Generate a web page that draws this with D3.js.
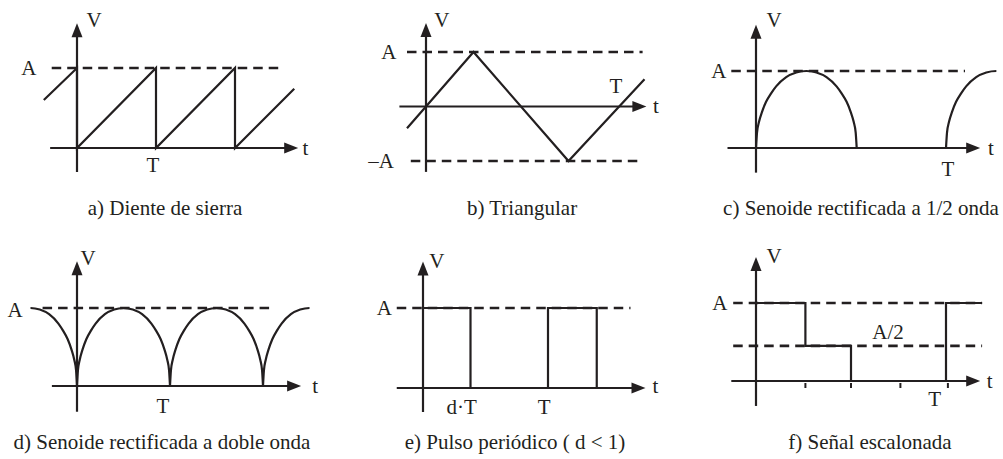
<!DOCTYPE html>
<html lang="es"><head>
<meta charset="utf-8">
<title>Formas de onda</title>
<script src="https://cdn.jsdelivr.net/npm/d3@7"></script>
<style>
  body { margin: 0; background: #fff; }
  svg text { font-family: "Liberation Serif", "Times New Roman", serif; font-size: 21px; fill: #231f20; }
</style>
</head>
<body>
<svg id="chart" width="1003" height="459"></svg>
<script>
// values in units of T (time) and A (amplitude)
const sawtooth = [[-0.42, 0.6], [0, 1], [0, 0], [1, 1], [1, 0], [2, 1], [2, 0], [2.75, 0.74]]
const triangle = [[-0.1, -0.4], [0, 0], [0.25, 1], [0.75, -1], [1.15, 0.5]]
// one rounded arch as drawn, u = fraction of the arch, v = level
const archProfile = [[0, 0], [0.01, 0.2], [0.03, 0.34], [0.06, 0.47], [0.1, 0.6], [0.15, 0.71], [0.2, 0.8],
  [0.3, 0.92], [0.4, 0.98], [0.5, 1], [0.6, 0.98], [0.7, 0.92], [0.8, 0.8], [0.85, 0.71], [0.9, 0.6],
  [0.94, 0.47], [0.97, 0.34], [0.99, 0.2], [1, 0]]
const halfWaveStarts = [0, 1]
const halfWaveWidth = 0.53
const fullWaveStarts = [-1, 0, 1, 2]
const fullWaveWidth = 1
const pulse = [[0, 1], [0.38, 1], [0.38, 0], [1, 0], [1, 1], [1.39, 1], [1.39, 0], [1.7, 0]]
const steps = [[0, 1], [0.26, 1], [0.26, 0.45], [0.5, 0.45], [0.5, 0], [1, 0], [1, 1], [1.19, 1]]
const stepTicks = [0.26, 0.5, 0.76, 1.01]
const captions = ["a) Diente de sierra", "b) Triangular", "c) Senoide rectificada a 1/2 onda",
  "d) Senoide rectificada a doble onda", "e) Pulso periódico ( d < 1)", "f) Señal escalonada"]

const ink = "#231f20"
const svg = d3.select("#chart")

// layout of each small plot: pixel position of t=0, t=T, v=0, v=A
const panels = [
  { x0: 77, xT: 156, y0: 148, yA: 68, tAxis: [-0.34, 2.80], vAxis: [-0.3, 1.56],
    dashed: [{ v: 1, from: -0.32, to: 2.61 }],
    lines: [sawtooth], curves: null,
    labels: [{ s: "A", t: -0.61, v: 1 }, { s: "V", t: 0.215, v: 1.6 }, { s: "t", t: 2.89, v: 0 }, { s: "T", t: 0.96, v: -0.21 }],
    caption: { x: 165, y: 215 } },
  { x0: 426, xT: 616, y0: 106.5, yA: 52, tAxis: [-0.14, 1.16], vAxis: [-1.2, 1.53],
    dashed: [{ v: 1, from: -0.1, to: 1.14 }, { v: -1, from: -0.08, to: 1.14 }],
    lines: [triangle], curves: null,
    labels: [{ s: "A", t: -0.195, v: 1 }, { s: "\u2013A", t: -0.237, v: -1 }, { s: "V", t: 0.084, v: 1.59 },
      { s: "t", t: 1.21, v: 0 }, { s: "T", t: 1, v: 0.38 }],
    caption: { x: 522, y: 215 } },
  { x0: 756, xT: 946, y0: 148, yA: 71, tAxis: [-0.15, 1.18], vAxis: [-0.32, 1.6],
    dashed: [{ v: 1, from: -0.13, to: 1.1 }],
    lines: [], curves: { starts: halfWaveStarts, width: halfWaveWidth, clip: [0, 1.265] },
    labels: [{ s: "A", t: -0.195, v: 1 }, { s: "V", t: 0.095, v: 1.66 }, { s: "t", t: 1.237, v: 0 }, { s: "T", t: 1.01, v: -0.27 }],
    caption: { x: 861, y: 215 } },
  { x0: 77, xT: 170, y0: 386, yA: 308, tAxis: [-0.27, 2.41], vAxis: [-0.33, 1.6],
    dashed: [{ v: 1, from: -0.37, to: 2.11 }],
    lines: [], curves: { starts: fullWaveStarts, width: fullWaveWidth, clip: [-0.5, 2.5] },
    labels: [{ s: "A", t: -0.667, v: 0.97 }, { s: "V", t: 0.118, v: 1.64 }, { s: "t", t: 2.56, v: 0 }, { s: "T", t: 0.925, v: -0.26 }],
    caption: { x: 162, y: 449 } },
  { x0: 423, xT: 548, y0: 388, yA: 308, tAxis: [-0.21, 1.78], vAxis: [-0.3, 1.58],
    dashed: [{ v: 1, from: -0.21, to: 1.66 }],
    lines: [pulse], curves: null,
    labels: [{ s: "A", t: -0.31, v: 1 }, { s: "V", t: 0.11, v: 1.59 }, { s: "t", t: 1.86, v: 0.03 },
      { s: "d\u00b7T", t: 0.31, v: -0.24 }, { s: "T", t: 0.97, v: -0.24 }],
    caption: { x: 515, y: 449 } },
  { x0: 756, xT: 946, y0: 381, yA: 303, tAxis: [-0.13, 1.18], vAxis: [-0.32, 1.59],
    dashed: [{ v: 1, from: -0.12, to: 1.19 }, { v: 0.45, from: -0.12, to: 1.19 }],
    lines: [steps], curves: null, ticks: stepTicks,
    labels: [{ s: "A", t: -0.19, v: 1 }, { s: "V", t: 0.095, v: 1.6 }, { s: "t", t: 1.23, v: 0 },
      { s: "A/2", t: 0.695, v: 0.63 }, { s: "T", t: 0.94, v: -0.23 }],
    caption: { x: 870, y: 449 } }
]

const line = d3.line()

panels.forEach((p, i) => {
  const x = d3.scaleLinear().domain([0, 1]).range([p.x0, p.xT])
  const y = d3.scaleLinear().domain([0, 1]).range([p.y0, p.yA])
  const g = svg.append("g")

  // dashed reference levels
  p.dashed.forEach(d => {
    g.append("line")
      .attr("x1", x(d.from)).attr("x2", x(d.to))
      .attr("y1", y(d.v)).attr("y2", y(d.v))
      .attr("stroke", ink).attr("stroke-width", 2.6)
      .attr("stroke-dasharray", "9.5,6")
  })

  // axes with arrow heads
  const tx = x(p.tAxis[1]), ty = y(0)
  const vx = x(0), vy = y(p.vAxis[1])
  g.append("line")
    .attr("x1", x(p.tAxis[0])).attr("x2", tx - 10)
    .attr("y1", ty).attr("y2", ty)
    .attr("stroke", ink).attr("stroke-width", 2.2)
  g.append("line")
    .attr("x1", vx).attr("x2", vx)
    .attr("y1", y(p.vAxis[0])).attr("y2", vy + 10)
    .attr("stroke", ink).attr("stroke-width", 2.2)
  g.append("path")
    .attr("d", `M${tx},${ty}L${tx - 14},${ty - 5.5}L${tx - 14},${ty + 5.5}Z`)
    .attr("fill", ink)
  g.append("path")
    .attr("d", `M${vx},${vy}L${vx - 5.5},${vy + 14}L${vx + 5.5},${vy + 14}Z`)
    .attr("fill", ink)

  // waveform
  p.lines.forEach(pts => {
    g.append("path")
      .attr("d", line(pts.map(d => [x(d[0]), y(d[1])])))
      .attr("fill", "none").attr("stroke", ink)
      .attr("stroke-width", 2.2).attr("stroke-linejoin", "miter")
  })

  if (p.curves) {
    const c = p.curves
    const clipId = "clip" + i
    svg.append("clipPath").attr("id", clipId)
      .append("rect")
      .attr("x", x(c.clip[0])).attr("width", x(c.clip[1]) - x(c.clip[0]))
      .attr("y", 0).attr("height", 459)
    const arc = d3.line().curve(d3.curveMonotoneX)
    const cg = g.append("g").attr("clip-path", `url(#${clipId})`)
    c.starts.forEach(s => {
      cg.append("path")
        .attr("d", arc(archProfile.map(d => [x(s + d[0] * c.width), y(d[1])])))
        .attr("fill", "none").attr("stroke", ink).attr("stroke-width", 2.2)
    })
  }

  if (p.ticks) {
    g.selectAll(".tick").data(p.ticks).join("line")
      .attr("x1", d => x(d)).attr("x2", d => x(d))
      .attr("y1", y(0) + 2).attr("y2", y(0) + 7)
      .attr("stroke", ink).attr("stroke-width", 2)
  }

  // labels
  g.selectAll("text.lab").data(p.labels).join("text")
    .attr("class", "lab")
    .attr("x", d => x(d.t)).attr("y", d => y(d.v))
    .attr("dy", "0.33em")
    .attr("text-anchor", "middle")
    .text(d => d.s)

  g.append("text")
    .attr("x", p.caption.x).attr("y", p.caption.y)
    .attr("text-anchor", "middle")
    .text(captions[i])
})
</script>
</body>
</html>
